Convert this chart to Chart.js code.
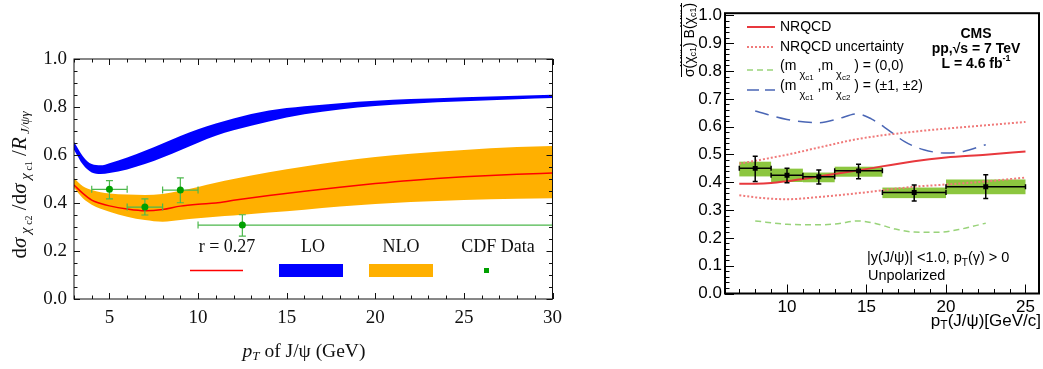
<!DOCTYPE html>
<html>
<head>
<meta charset="utf-8">
<title>chi_c2 / chi_c1 production ratio</title>
<script src="https://cdn.jsdelivr.net/npm/chart.js@4.4.1/dist/chart.umd.min.js"></script>
<style>
  html, body { margin: 0; padding: 0; background: #fff; }
  body { width: 1043px; height: 369px; position: relative; overflow: hidden; }
  canvas { position: absolute; top: 0; }
  #ratioChart { left: 0; }
  #cmsChart { left: 680px; }
</style>
</head>
<body>
<canvas id="ratioChart" width="570" height="369"></canvas>
<canvas id="cmsChart" width="363" height="369"></canvas>
<script>
// ---- left panel: LO / NLO ratio vs pT of J/psi, with CDF points ----
const ptGrid   = [3, 3.5, 4, 4.5, 5, 6, 7, 8, 9, 10, 11, 12, 14, 16, 18, 20, 22, 25, 28, 30];
const loUpper  = [0.655, 0.595, 0.562, 0.557, 0.566, 0.59, 0.618, 0.648, 0.679, 0.707, 0.731, 0.752, 0.785, 0.803, 0.816, 0.826, 0.833, 0.841, 0.847, 0.851];
const loLower  = [0.622, 0.56, 0.527, 0.521, 0.525, 0.54, 0.562, 0.59, 0.62, 0.651, 0.68, 0.703, 0.74, 0.77, 0.79, 0.804, 0.814, 0.824, 0.832, 0.837];
const nloUpper = [0.503, 0.47, 0.454, 0.445, 0.44, 0.435, 0.433, 0.438, 0.451, 0.467, 0.484, 0.5, 0.528, 0.552, 0.574, 0.592, 0.605, 0.621, 0.633, 0.638];
const nloLower = [0.462, 0.42, 0.393, 0.376, 0.364, 0.343, 0.329, 0.322, 0.329, 0.336, 0.343, 0.348, 0.36, 0.372, 0.385, 0.396, 0.404, 0.413, 0.418, 0.42];
const nloR027  = [0.475, 0.44, 0.412, 0.398, 0.388, 0.375, 0.368, 0.373, 0.387, 0.395, 0.4, 0.411, 0.431, 0.449, 0.466, 0.481, 0.494, 0.509, 0.52, 0.525];

const cdfPt      = [5, 7, 9, 12.5];
const cdfPtLow   = [4, 6, 8, 10];
const cdfPtHigh  = [6, 8, 10, 30];
const cdfRatio   = [0.457, 0.383, 0.454, 0.308];
const cdfErrLow  = [0.417, 0.35, 0.401, 0.262];
const cdfErrHigh = [0.493, 0.417, 0.505, 0.351];

const ratioTicksX = [5, 10, 15, 20, 25, 30];
const ratioTicksY = [0, 0.2, 0.4, 0.6, 0.8, 1.0];

// ---- right panel: CMS measurement vs NRQCD ----
const nrqcdPt      = [7, 8, 9, 10, 12, 14.5, 18, 20, 22.5, 25];
const nrqcdCentral = [0.395, 0.395, 0.397, 0.404, 0.421, 0.443, 0.476, 0.489, 0.499, 0.511];
const nrqcdUpper   = [0.467, 0.477, 0.488, 0.499, 0.525, 0.556, 0.582, 0.593, 0.605, 0.617];
const nrqcdLower   = [0.353, 0.346, 0.341, 0.339, 0.347, 0.361, 0.384, 0.392, 0.403, 0.417];

const pol00Pt    = [8, 10, 12, 13.2, 14.4, 15.5, 16.8, 18, 19.5, 20.8, 22.5];
const pol00Ratio = [0.261, 0.249, 0.247, 0.251, 0.261, 0.253, 0.232, 0.221, 0.22, 0.23, 0.253];
const pol12Pt    = [8, 10, 12, 13.2, 14.4, 15.3, 16.4, 17.4, 18.6, 20, 21.1, 22.5];
const pol12Ratio = [0.656, 0.626, 0.614, 0.628, 0.646, 0.628, 0.587, 0.546, 0.517, 0.505, 0.511, 0.535];

const cmsBinLow   = [7, 9, 11, 13, 16, 20];
const cmsBinHigh  = [9, 11, 13, 16, 20, 25];
const cmsPt       = [8, 10, 12, 14.5, 18, 22.5];
const cmsRatio    = [0.45, 0.425, 0.42, 0.441, 0.363, 0.384];
const cmsStatLow  = [0.403, 0.398, 0.394, 0.413, 0.333, 0.342];
const cmsStatHigh = [0.494, 0.45, 0.444, 0.465, 0.39, 0.427];
const cmsSystLow  = [0.421, 0.401, 0.4, 0.42, 0.343, 0.357];
const cmsSystHigh = [0.474, 0.449, 0.435, 0.456, 0.381, 0.41];

const cmsTicksX = [10, 15, 20, 25];
const cmsTicksY = [0, 0.1, 0.2, 0.3, 0.4, 0.5, 0.6, 0.7, 0.8, 0.9, 1.0];

const SERIF = "'Liberation Serif', 'Times New Roman', serif";
const SANS = "'Liberation Sans', Arial, sans-serif";

const xy = (xs, ys) => xs.map((x, i) => ({ x: x, y: ys[i] }));

function fixedTicks(values) {
  return function (scale) {
    scale.ticks = values.map(v => ({ value: v }));
  };
}

// draws a run of text pieces: [text, font, baseline shift]
function richText(ctx, x, y, parts, align) {
  let w = 0;
  parts.forEach(p => { ctx.font = p[1]; w += ctx.measureText(p[0]).width; });
  let cx = align === 'center' ? x - w / 2 : align === 'right' ? x - w : x;
  ctx.textAlign = 'left';
  ctx.textBaseline = 'middle';
  parts.forEach(p => {
    ctx.font = p[1];
    ctx.fillText(p[0], cx, y + (p[2] || 0));
    cx += ctx.measureText(p[0]).width;
  });
}

function drawErrorBars(chart, xs, xLo, xHi, ys, yLo, yHi, cap) {
  const { ctx, scales: { x, y } } = chart;
  ctx.beginPath();
  xs.forEach((v, i) => {
    const px = x.getPixelForValue(v), py = y.getPixelForValue(ys[i]);
    const l = x.getPixelForValue(xLo[i]), r = x.getPixelForValue(xHi[i]);
    const t = y.getPixelForValue(yHi[i]), b = y.getPixelForValue(yLo[i]);
    ctx.moveTo(l, py); ctx.lineTo(r, py);
    ctx.moveTo(px, t); ctx.lineTo(px, b);
    ctx.moveTo(l, py - cap); ctx.lineTo(l, py + cap);
    ctx.moveTo(r, py - cap); ctx.lineTo(r, py + cap);
    ctx.moveTo(px - cap, t); ctx.lineTo(px + cap, t);
    ctx.moveTo(px - cap, b); ctx.lineTo(px + cap, b);
  });
  ctx.stroke();
}

// box frame with inward tick marks
function framePlugin(o) {
  return {
    id: 'frame',
    afterDatasetsDraw(chart) {
      const { ctx, chartArea: a, scales: { x, y } } = chart;
      ctx.save();
      ctx.strokeStyle = o.color;
      ctx.lineWidth = 1;
      ctx.beginPath();
      const nx = Math.round((o.xTo - o.xFrom) / o.xStep);
      for (let i = 0; i <= nx; i++) {
        const v = o.xFrom + i * o.xStep;
        const px = Math.round(x.getPixelForValue(v)) + 0.5;
        const len = Math.abs(v % o.xMajor) < 1e-6 ? o.majorLen : o.minorLen;
        ctx.moveTo(px, a.bottom); ctx.lineTo(px, a.bottom - len);
        if (o.allSides) { ctx.moveTo(px, a.top); ctx.lineTo(px, a.top + len); }
      }
      const ny = Math.round((o.yTo - o.yFrom) / o.yStep);
      for (let i = 0; i <= ny; i++) {
        const py = Math.round(y.getPixelForValue(o.yFrom + i * o.yStep)) + 0.5;
        const len = i % o.yMajorEvery === 0 ? o.majorLen : o.minorLen;
        ctx.moveTo(a.left, py); ctx.lineTo(a.left + len, py);
        if (o.allSides) { ctx.moveTo(a.right, py); ctx.lineTo(a.right - len, py); }
      }
      ctx.stroke();
      ctx.lineWidth = o.frameWidth;
      ctx.strokeRect(a.left, a.top, a.right - a.left, a.bottom - a.top);
      ctx.restore();
    }
  };
}

// ---- left chart ----
const ratioDecor = {
  id: 'ratioDecor',
  beforeDatasetDraw(chart, args) {
    if (args.index !== 0) return;
    const { ctx, chartArea: a } = chart;
    ctx.save();
    ctx.beginPath();
    ctx.rect(a.left, a.top, a.right - a.left, a.bottom - a.top);
    ctx.clip();
    ctx.strokeStyle = '#4cb84c';
    ctx.lineWidth = 1.2;
    drawErrorBars(chart, cdfPt, cdfPtLow, cdfPtHigh, cdfRatio, cdfErrLow, cdfErrHigh, 3.5);
    ctx.restore();
  },
  afterDraw(chart) {
    const ctx = chart.ctx;
    ctx.save();
    ctx.fillStyle = '#111';
    // legend
    const f18 = '18px ' + SERIF;
    richText(ctx, 227, 247, [['r = 0.27', f18]], 'center');
    richText(ctx, 313, 247, [['LO', f18]], 'center');
    richText(ctx, 401, 247, [['NLO', f18]], 'center');
    richText(ctx, 498, 247, [['CDF Data', f18]], 'center');
    ctx.strokeStyle = '#ff0000';
    ctx.lineWidth = 1.5;
    ctx.beginPath(); ctx.moveTo(190, 270.5); ctx.lineTo(243, 270.5); ctx.stroke();
    ctx.fillStyle = '#0000ff';
    ctx.fillRect(279, 264, 64, 13);
    ctx.fillStyle = '#ffb000';
    ctx.fillRect(369, 264, 64, 13);
    ctx.fillStyle = '#00a000';
    ctx.fillRect(484, 268, 5, 5);

    // axis titles
    ctx.fillStyle = '#111';
    richText(ctx, 304, 352, [
      ['p', 'italic 19.5px ' + SERIF],
      ['T', 'italic 13px ' + SERIF, 5],
      [' of J/\u03c8 (GeV)', '19.5px ' + SERIF]
    ], 'center');
    ctx.translate(20, 185);
    ctx.rotate(-Math.PI / 2);
    const f21 = '21px ' + SERIF, i21 = 'italic 21px ' + SERIF;
    richText(ctx, 0, 0, [
      ['d', f21],
      ['\u03c3', i21],
      [' \u03c7', 'italic 15px ' + SERIF, 6],
      [' c2', '10px ' + SERIF, 9],
      [' /d', f21],
      ['\u03c3', i21],
      [' \u03c7', 'italic 15px ' + SERIF, 6],
      [' c1', '10px ' + SERIF, 9],
      [' /', f21],
      ['R', i21],
      [' J/\u03c8\u03b3', 'italic 13px ' + SERIF, 6]
    ], 'center');
    ctx.restore();
  }
};

const bandStyle = { borderWidth: 0, borderColor: 'rgba(0,0,0,0)', pointRadius: 0, cubicInterpolationMode: 'monotone' };

new Chart(document.getElementById('ratioChart'), {
  type: 'line',
  data: {
    datasets: [
      { label: 'CDF Data', data: xy(cdfPt, cdfRatio), showLine: false, pointRadius: 3.5,
        pointBackgroundColor: '#00a000', pointBorderWidth: 0 },
      { label: 'r = 0.27', data: xy(ptGrid, nloR027), borderColor: '#ff0000', borderWidth: 1.5,
        pointRadius: 0, cubicInterpolationMode: 'monotone', fill: false },
      Object.assign({ label: 'NLO', data: xy(ptGrid, nloUpper), fill: 3, backgroundColor: '#ffb000' }, bandStyle),
      Object.assign({ label: 'NLO lower', data: xy(ptGrid, nloLower), fill: false }, bandStyle),
      Object.assign({ label: 'LO', data: xy(ptGrid, loUpper), fill: 5, backgroundColor: '#0000ff' }, bandStyle),
      Object.assign({ label: 'LO lower', data: xy(ptGrid, loLower), fill: false }, bandStyle)
    ]
  },
  options: {
    responsive: false,
    animation: false,
    devicePixelRatio: 1,
    layout: { padding: { left: 0, right: 15, top: 59, bottom: 0 } },
    plugins: { legend: { display: false }, tooltip: { enabled: false } },
    scales: {
      x: {
        type: 'linear', min: 3, max: 30,
        afterBuildTicks: fixedTicks(ratioTicksX),
        afterFit: s => { s.height = 70; },
        grid: { display: false, drawTicks: false },
        border: { display: false },
        ticks: { font: { family: SERIF, size: 19 }, color: '#111', padding: 8, maxRotation: 0, autoSkip: false }
      },
      y: {
        type: 'linear', min: 0, max: 1,
        afterBuildTicks: fixedTicks(ratioTicksY),
        afterFit: s => { s.width = 74; },
        grid: { display: false, drawTicks: false },
        border: { display: false },
        ticks: { font: { family: SERIF, size: 19 }, color: '#111', padding: 7, callback: v => v.toFixed(1) }
      }
    }
  },
  plugins: [ratioDecor, framePlugin({
    color: '#111', frameWidth: 1, allSides: true, majorLen: 6, minorLen: 3.5,
    xFrom: 3, xTo: 30, xStep: 1, xMajor: 5,
    yFrom: 0, yTo: 1, yStep: 0.05, yMajorEvery: 4
  })]
});

// ---- right chart ----
const cmsDecor = {
  id: 'cmsDecor',
  beforeDatasetsDraw(chart) {
    const { ctx, scales: { x, y } } = chart;
    ctx.save();
    ctx.fillStyle = '#8cc63f';
    cmsPt.forEach((v, i) => {
      const l = x.getPixelForValue(cmsBinLow[i]), r = x.getPixelForValue(cmsBinHigh[i]);
      const t = y.getPixelForValue(cmsSystHigh[i]), b = y.getPixelForValue(cmsSystLow[i]);
      ctx.fillRect(l, t, r - l, b - t);
    });
    ctx.restore();
  },
  beforeDatasetDraw(chart, args) {
    if (args.index !== 0) return;
    const ctx = chart.ctx;
    ctx.save();
    ctx.strokeStyle = '#000';
    ctx.lineWidth = 1.5;
    drawErrorBars(chart, cmsPt, cmsBinLow, cmsBinHigh, cmsRatio, cmsStatLow, cmsStatHigh, 2.5);
    ctx.restore();
  },
  afterDraw(chart) {
    const ctx = chart.ctx;
    const f14 = '14px ' + SANS;
    const sub = '11px ' + SANS, subsub = '8px ' + SANS;
    ctx.save();
    ctx.fillStyle = '#000';

    // legend samples
    const sample = (yy, color, width, dash) => {
      ctx.save();
      ctx.strokeStyle = color; ctx.lineWidth = width; ctx.setLineDash(dash);
      ctx.beginPath(); ctx.moveTo(67, yy); ctx.lineTo(95, yy); ctx.stroke();
      ctx.restore();
    };
    sample(27, '#e8383d', 2, []);
    sample(47, '#f07a7a', 2, [2, 2]);
    sample(70, '#99d37a', 1.5, [6, 4]);
    sample(90, '#4a66b5', 1.5, [12, 6]);
    richText(ctx, 100, 27, [['NRQCD', f14]], 'left');
    richText(ctx, 100, 47, [['NRQCD uncertainty', f14]], 'left');
    const mPair = tail => [['(m', f14], [' \u03c7', sub, 9], ['c1', subsub, 12], [' ,m', f14],
      [' \u03c7', sub, 9], ['c2', subsub, 12], [' ) = ' + tail, f14]];
    richText(ctx, 100, 66, mPair('(0,0)'), 'left');
    richText(ctx, 100, 86, mPair('(\u00b11, \u00b12)'), 'left');

    // experiment label
    const b14 = 'bold 14px ' + SANS;
    richText(ctx, 296, 34, [['CMS', b14]], 'center');
    richText(ctx, 296, 49, [['pp,\u221as = 7 TeV', b14]], 'center');
    richText(ctx, 296, 64, [['L = 4.6 fb', b14], ['-1', 'bold 9px ' + SANS, -5]], 'center');

    richText(ctx, 187, 258, [['|y(J/\u03c8)| <1.0, p', '14.5px ' + SANS], ['T', '10px ' + SANS, 5],
      ['(\u03b3) > 0', '14.5px ' + SANS]], 'left');
    richText(ctx, 188, 276, [['Unpolarized', '14.5px ' + SANS]], 'left');

    // axis titles
    richText(ctx, 361, 321, [['p', '17px ' + SANS], ['T', '12px ' + SANS, 5], ['(J/\u03c8)[GeV/c]', '17px ' + SANS]], 'right');
    ctx.save();
    ctx.translate(10, 40);
    ctx.rotate(-Math.PI / 2);
    richText(ctx, 0, 0, [['\u03c3(\u03c7', '14px ' + SANS], ['c1', '9px ' + SANS, 4], [') B(\u03c7', '14px ' + SANS],
      ['c1', '9px ' + SANS, 4], [')', '14px ' + SANS]], 'center');
    richText(ctx, 0, -15, [['\u03c3(\u03c7', '14px ' + SANS], ['c2', '9px ' + SANS, 5], [') B(\u03c7', '14px ' + SANS],
      ['c2', '9px ' + SANS, 5], [')', '14px ' + SANS]], 'center');
    ctx.fillRect(-37, -9, 74, 1);
    ctx.restore();
    ctx.restore();
  }
};

const curve = { pointRadius: 0, fill: false, cubicInterpolationMode: 'monotone' };

new Chart(document.getElementById('cmsChart'), {
  type: 'line',
  data: {
    datasets: [
      { label: 'CMS', data: xy(cmsPt, cmsRatio), showLine: false, pointStyle: 'rect', pointRadius: 3.5,
        pointBackgroundColor: '#000', pointBorderWidth: 0 },
      Object.assign({ label: 'NRQCD', data: xy(nrqcdPt, nrqcdCentral), borderColor: '#e8383d', borderWidth: 2 }, curve),
      Object.assign({ label: 'NRQCD uncertainty', data: xy(nrqcdPt, nrqcdUpper), borderColor: '#f07a7a', borderWidth: 2, borderDash: [2, 2] }, curve),
      Object.assign({ label: 'NRQCD uncertainty low', data: xy(nrqcdPt, nrqcdLower), borderColor: '#f07a7a', borderWidth: 2, borderDash: [2, 2] }, curve),
      Object.assign({ label: '(0,0)', data: xy(pol00Pt, pol00Ratio), borderColor: '#99d37a', borderWidth: 1.5, borderDash: [6, 4] }, curve),
      Object.assign({ label: '(+-1,+-2)', data: xy(pol12Pt, pol12Ratio), borderColor: '#4a66b5', borderWidth: 1.5, borderDash: [14, 8] }, curve)
    ]
  },
  options: {
    responsive: false,
    animation: false,
    devicePixelRatio: 1,
    layout: { padding: { left: 0, right: 2, top: 7, bottom: 0 } },
    plugins: { legend: { display: false }, tooltip: { enabled: false } },
    scales: {
      x: {
        type: 'linear', min: 6.1, max: 25.85,
        afterBuildTicks: fixedTicks(cmsTicksX),
        afterFit: s => { s.height = 75.5; },
        grid: { display: false, drawTicks: false },
        border: { display: false },
        ticks: { font: { family: SANS, size: 17 }, color: '#000', padding: 4, maxRotation: 0, autoSkip: false }
      },
      y: {
        type: 'linear', min: 0, max: 1.008,
        afterBuildTicks: fixedTicks(cmsTicksY),
        afterFit: s => { s.width = 45; },
        grid: { display: false, drawTicks: false },
        border: { display: false },
        ticks: { font: { family: SANS, size: 17 }, color: '#000', padding: 3, callback: v => v.toFixed(1) }
      }
    }
  },
  plugins: [cmsDecor, framePlugin({
    color: '#000', frameWidth: 2, allSides: false, majorLen: 9, minorLen: 4.5,
    xFrom: 7, xTo: 25, xStep: 1, xMajor: 5,
    yFrom: 0, yTo: 1, yStep: 0.02, yMajorEvery: 5
  })]
});
</script>
</body>
</html>
